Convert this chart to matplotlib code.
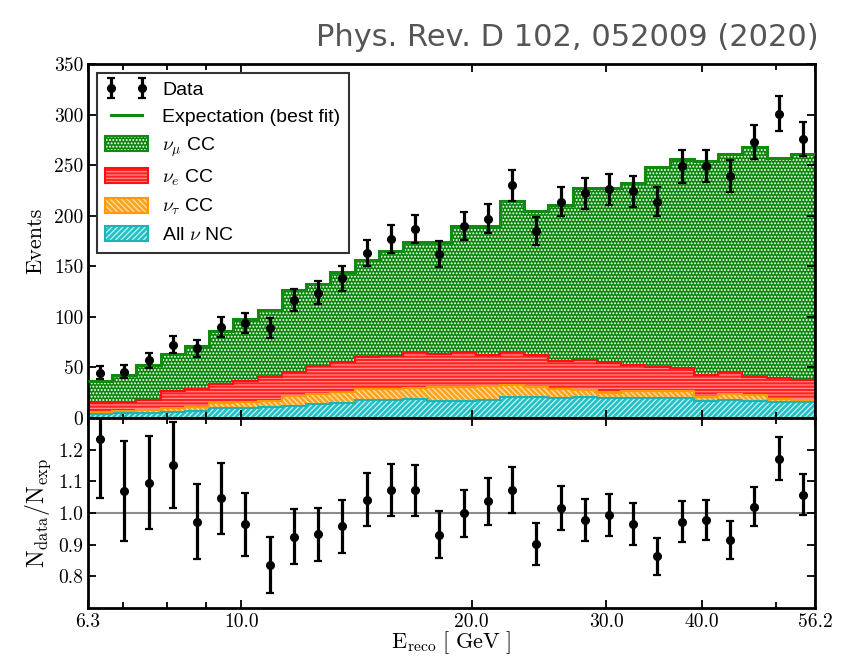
import numpy as np
import matplotlib
matplotlib.use("Agg")
import matplotlib.pyplot as plt
from matplotlib.patches import Patch
from matplotlib.lines import Line2D
from matplotlib.legend_handler import HandlerTuple

# reconstructed energy binning (log bins, GeV)
e_min, e_max, n_bins = 6.3, 56.2, 30

# expected events per bin, per component
nc_all = [3.5, 4.5, 5, 6.3, 7, 9.5, 10, 11, 12, 13.5, 14.5, 17.5, 17.5, 18.5, 17,
          17, 18, 21, 21, 20, 20.5, 19.5, 20, 20, 20, 16.8, 17.5, 16.8, 16, 15.5]
nutau_cc = [2, 2.5, 3, 3.7, 4, 5, 5.5, 5.5, 10, 10, 11.5, 11.5, 11, 11.5, 13.5,
            14, 14, 12, 10, 8.5, 7.5, 5.5, 7, 6.5, 7, 3.7, 6, 5.7, 3, 2.5]
nue_cc = [9, 9, 10, 16.5, 17.5, 19, 21, 24.5, 24, 27.5, 29, 31.5, 32.5, 35, 32.5,
          34, 30.5, 32, 31.5, 28, 29.5, 29, 25, 24, 22, 22.5, 22.5, 18.5, 21, 19.5]
numu_cc = [22, 27, 34, 36.5, 42.5, 52.5, 61, 65.5, 80.5, 82, 89, 96, 104, 109.5, 111,
           125, 127.5, 149.5, 142.5, 154, 169.5, 173.5, 180, 197.5, 207, 211.5, 215,
           226.5, 217, 223.5]

# observed events and their uncertainties
data_counts = [45, 46, 57, 72.5, 69, 90, 94, 89, 117, 124, 138, 163, 177, 187, 162,
               190, 197, 230, 185, 214, 222, 226, 224, 214, 249, 249, 239, 273, 301, 276]
data_errors = [6.8, 6.8, 7.6, 8.6, 8.4, 9.6, 9.8, 9.5, 11.0, 11.3, 12.0, 13.1, 13.5, 14.1,
               12.9, 14.1, 14.3, 15.4, 13.7, 14.5, 15.0, 15.0, 15.1, 14.6, 16.4, 16.0,
               15.7, 16.6, 17.5, 17.0]

x_ticks = [6.3, 10.0, 20.0, 30.0, 40.0, 56.2]
x_tick_labels = ["6.3", "10.0", "20.0", "30.0", "40.0", "56.2"]
x_minor = [7, 8, 9, 50]
y_ticks = [0, 50, 100, 150, 200, 250, 300, 350]
ratio_ticks = [0.8, 0.9, 1.0, 1.1, 1.2]

plt.rcParams["mathtext.fontset"] = "cm"
plt.rcParams["hatch.linewidth"] = 0.9

edges = np.logspace(np.log10(e_min), np.log10(e_max), n_bins + 1)
centers = np.sqrt(edges[:-1] * edges[1:])
data = np.array(data_counts, float)
err = np.array(data_errors, float)

# (values, face, hatch colour, hatch, outline, label) from bottom to top
layers = [
    (nc_all, "#22c0c4", "#c6f2f2", "//////", "#1fb3b5", r"All $\nu$ NC"),
    (nutau_cc, "#ffa21c", "#ffe2a6", "\\\\\\\\\\\\", "#ff9a00", r"$\nu_\tau$ CC"),
    (nue_cc, "#ff2222", "#ff8c8c", "-----", "#ff1010", r"$\nu_e$ CC"),
    (numu_cc, "#0a870a", "#ffffff", ".....", "#118a11", r"$\nu_\mu$ CC"),
]

fig = plt.figure(figsize=(8.41, 6.58), dpi=100)
ax = fig.add_axes([0.1046, 0.3647, 0.8645, 0.5380])
rax = fig.add_axes([0.1046, 0.0760, 0.8645, 0.2887], sharex=ax)

base = np.zeros(n_bins)
handles = {}
for values, face, hcol, hatch, line, label in layers:
    top = base + np.array(values, float)
    ax.stairs(top, edges, baseline=base, fill=True, facecolor=face,
              edgecolor=hcol, hatch=hatch, linewidth=0, zorder=1)
    handles[label] = (Patch(facecolor=face, edgecolor=hcol, hatch=hatch, linewidth=0),
                      Patch(fill=False, edgecolor=line, linewidth=1.5))
    if label != r"$\nu_\mu$ CC":
        ax.stairs(top, edges, baseline=None, color=line, linewidth=1.5, zorder=2)
    base = top
total = base
ax.stairs(total, edges, baseline=None, color="#118a11", linewidth=2.2, zorder=3)

ebar = ax.errorbar(centers, data, yerr=err, fmt="o", color="black", ms=5.5,
                   elinewidth=2.3, capsize=3.2, capthick=1.6, zorder=5)

exp_line = Line2D([], [], color="#118a11", linewidth=2.2)
leg_handles = [ebar, exp_line,
               handles[r"$\nu_\mu$ CC"], handles[r"$\nu_e$ CC"],
               handles[r"$\nu_\tau$ CC"], handles[r"All $\nu$ NC"]]
leg_labels = ["Data", "Expectation (best fit)", r"$\nu_\mu$ CC", r"$\nu_e$ CC",
              r"$\nu_\tau$ CC", r"All $\nu$ NC"]
leg = ax.legend(leg_handles, leg_labels, loc="upper left", numpoints=2,
                handler_map={tuple: HandlerTuple(ndivide=1, pad=0)},
                prop={"family": "Liberation Sans", "size": 14},
                frameon=True, fancybox=False, edgecolor="black",
                handlelength=2.2, handleheight=0.8, handletextpad=0.75,
                labelspacing=0.46, borderpad=0.42, borderaxespad=0.45)
leg.get_frame().set_linewidth(1.5)

# ratio panel
ratio = data / total
ratio_err = err / total
rax.axhline(1.0, color="#8c8c8c", linewidth=1.5, zorder=1)
rax.errorbar(centers, ratio, yerr=ratio_err, fmt="o", color="black", ms=5.5,
             elinewidth=2.3, capsize=3.2, capthick=1.6, zorder=5)

ax.set_xscale("log")
ax.set_xlim(e_min, e_max)
ax.set_ylim(0, 350)
rax.set_ylim(0.7, 1.3)

for a in (ax, rax):
    a.set_xticks(x_ticks)
    a.set_xticks(x_minor, minor=True)
    a.tick_params(which="both", direction="in", top=True, right=True,
                  labelfontfamily="cmr10", labelsize=14, width=1.3, colors="black")
    a.tick_params(which="major", length=6)
    a.tick_params(which="minor", length=4)
    for s in a.spines.values():
        s.set_linewidth(2.0)

rax.set_xticklabels(x_tick_labels)
rax.set_xticklabels([], minor=True)
ax.tick_params(axis="x", which="both", labelbottom=False)
ax.set_yticks(y_ticks)
ax.set_yticklabels([str(v) for v in y_ticks])
rax.set_yticks(ratio_ticks)
rax.set_yticklabels([f"{v:.1f}" for v in ratio_ticks])

ax.set_ylabel("Events", fontfamily="cmr10", fontsize=16, labelpad=6)
rax.set_ylabel(r"$\mathrm{N_{data}/N_{exp}}$", fontsize=17, labelpad=4)
rax.set_xlabel(r"$\mathrm{E_{reco}}\ [\ \mathrm{GeV}\ ]$", fontsize=16, labelpad=-1)

fig.text(0.973, 0.93, "Phys. Rev. D 102, 052009 (2020)", ha="right", va="baseline",
         fontsize=22, color="#555555", family="DejaVu Sans")

fig.savefig("out.png", dpi=100)
